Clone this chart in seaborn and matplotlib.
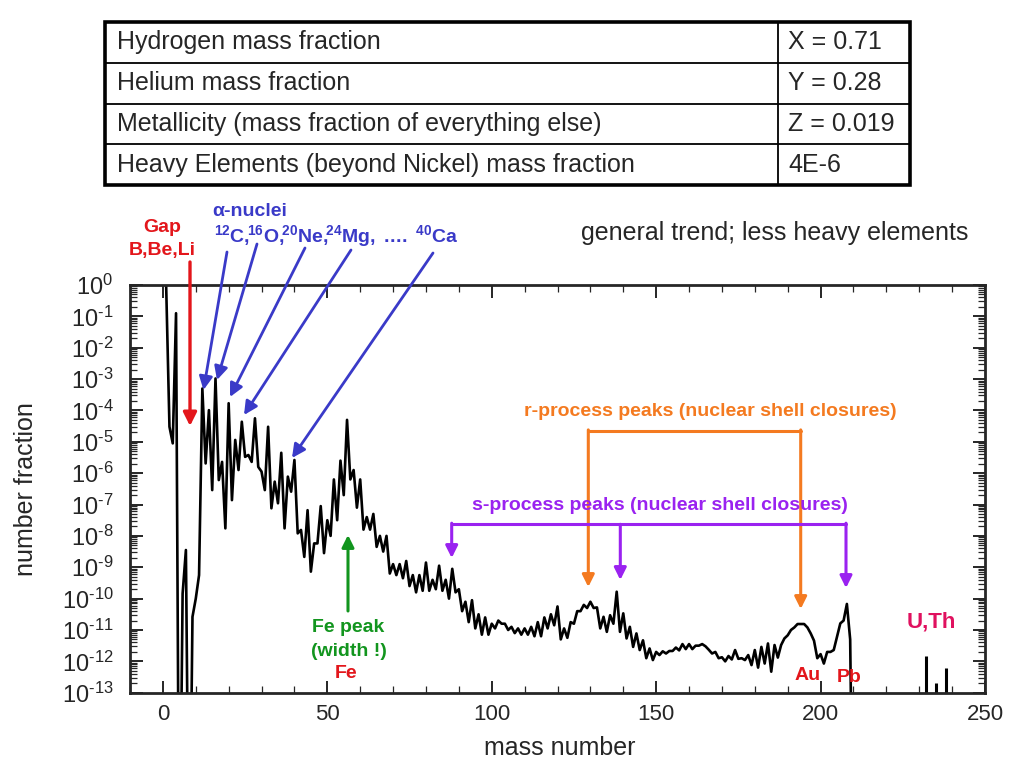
import numpy as np
import pandas as pd
import matplotlib
matplotlib.use('Agg')
import matplotlib.pyplot as plt
from matplotlib.lines import Line2D
from matplotlib.patches import Rectangle
from matplotlib.ticker import LogLocator, MultipleLocator, FuncFormatter, NullFormatter
import seaborn as sns

# ─────────────────────────────────────────────
# DATA (solar system abundances vs mass number)
# log10 of number fraction; -20 = nothing (off the bottom)
# ─────────────────────────────────────────────
mass_number = list(range(1, 211))
log_fraction = [
    -0.04, -4.52, -5.05, -0.90, -20.0, -9.84, -8.45, -20.0, -10.58, -10.0,      # 1-10
    -9.25, -3.30, -5.69, -3.99, -6.54, -2.98, -6.22, -5.64, -7.76, -3.77,       # 11-20
    -6.86, -4.94, -5.90, -4.36, -5.48, -5.42, -5.64, -4.25, -5.80, -5.95,       # 21-30
    -6.54, -4.52, -7.12, -6.27, -6.96, -5.35, -7.76, -6.11, -6.59, -5.58,       # 31-40
    -7.92, -7.81, -8.67, -7.18, -9.14, -8.24, -8.24, -7.05, -8.55, -7.50,       # 41-50
    -8.00, -6.20, -7.50, -5.60, -6.70, -4.30, -6.20, -5.90, -7.10, -6.20,       # 51-60
    -7.80, -7.40, -7.80, -7.30, -8.35, -8.00, -8.50, -8.00, -9.20, -8.90,       # 61-70
    -9.25, -8.90, -9.35, -8.80, -9.60, -9.25, -9.80, -9.25, -9.75, -8.85,       # 71-80
    -9.75, -9.40, -9.70, -8.95, -9.75, -9.40, -10.0, -9.05, -9.80, -9.70,       # 81-90
    -10.4, -10.1, -10.75, -10.05, -10.95, -10.5, -11.15, -10.6, -11.15, -10.8,  # 91-100
    -10.95, -10.7, -10.8, -10.8, -11.0, -10.9, -11.1, -10.95, -11.15, -10.95,   # 101-110
    -11.15, -10.9, -11.2, -10.75, -11.2, -10.6, -10.95, -10.5, -10.85, -10.25,  # 111-120
    -11.3, -10.95, -11.25, -10.75, -10.8, -10.4, -10.4, -10.2, -10.3, -10.1,    # 121-130
    -10.3, -10.28, -10.95, -10.58, -11.06, -10.53, -10.8, -9.78, -11.06, -10.47,  # 131-140
    -11.27, -10.9, -11.54, -11.11, -11.64, -11.33, -11.9, -11.59, -11.96, -11.7,  # 141-150
    -11.8, -11.68, -11.75, -11.67, -11.67, -11.56, -11.65, -11.45, -11.61, -11.45,  # 151-160
    -11.61, -11.5, -11.5, -11.45, -11.52, -11.63, -11.75, -11.7, -11.9, -11.87,   # 161-170
    -12.0, -11.83, -11.94, -11.64, -11.92, -11.9, -11.96, -11.8, -12.12, -11.64,  # 171-180
    -12.2, -11.54, -12.07, -11.43, -12.33, -11.48, -11.88, -11.48, -11.27, -11.17,  # 181-190
    -11.0, -10.92, -10.81, -10.81, -10.81, -10.92, -11.11, -11.34, -11.9, -11.77,  # 191-200
    -12.07, -11.7, -11.7, -11.64, -11.22, -10.79, -10.7, -10.17, -11.3, -20.0,    # 201-210
]

# U, Th lines (drawn as spikes)
uth_mass = [232, 235, 238]
uth_log = [-11.83, -12.68, -12.2]

table_labels = [
    'Hydrogen mass fraction',
    'Helium mass fraction',
    'Metallicity (mass fraction of everything else)',
    'Heavy Elements (beyond Nickel) mass fraction',
]
table_values = ['X = 0.71', 'Y = 0.28', 'Z = 0.019', '4E-6']

RED = '#e3161b'
BLUE = '#3a3ac8'
ORANGE = '#f47a20'
PURPLE = '#9a22f0'
GREEN = '#12951e'
PINK = '#e0115f'

sns.set_style('ticks')
plt.rcParams.update({
    'font.family': ['Liberation Sans', 'DejaVu Sans'],
    'mathtext.fontset': 'custom',
    'mathtext.rm': 'Liberation Sans',
    'mathtext.it': 'Liberation Sans:italic',
    'mathtext.bf': 'Liberation Sans:bold',
    'mathtext.default': 'regular',
    'axes.unicode_minus': False,
})


def fp(x, y):
    # reference-image pixels -> figure fraction
    return (x / 1024, 1 - y / 768)


fig = plt.figure(figsize=(10.24, 7.68), dpi=100)

# ─────────────────────────────────────────────
# TABLE
# ─────────────────────────────────────────────
ax_t = fig.add_axes([105 / 1024, 1 - 185 / 768, 805 / 1024, 163 / 768])
ax_t.set_xlim(0, 805)
ax_t.set_ylim(163, 0)
ax_t.axis('off')
ax_t.add_patch(Rectangle((0, 0), 805, 163, fill=False, lw=2.6, ec='black', clip_on=False))
row_h = 163 / 4
for i in range(1, 4):
    ax_t.plot([0, 805], [i * row_h, i * row_h], color='black', lw=1.3)
ax_t.plot([673, 673], [0, 163], color='black', lw=1.3)
for i, (lab, val) in enumerate(zip(table_labels, table_values)):
    ax_t.text(12, (i + 0.5) * row_h, lab, fontsize=18, va='center', ha='left')
    ax_t.text(683, (i + 0.5) * row_h, val, fontsize=18, va='center', ha='left')

# ─────────────────────────────────────────────
# ABUNDANCE CURVE
# ─────────────────────────────────────────────
ax = fig.add_axes([130 / 1024, 1 - 692.7 / 768, 855 / 1024, 407.7 / 768])
df = pd.DataFrame({'mass number': mass_number, 'fraction': 10 ** np.array(log_fraction)})
sns.lineplot(data=df, x='mass number', y='fraction', color='black', lw=1.9, ax=ax)
ax.vlines(uth_mass, 1e-20, 10 ** np.array(uth_log), color='black', lw=2.2)

ax.set_yscale('log')
ax.set_xlim(-10, 250)
ax.set_ylim(1e-13, 1)

ax.xaxis.set_major_locator(MultipleLocator(50))
ax.xaxis.set_minor_locator(MultipleLocator(10))
ax.yaxis.set_major_locator(LogLocator(base=10, numticks=20))
ax.yaxis.set_minor_locator(LogLocator(base=10, subs=np.arange(2, 10), numticks=20))
ax.yaxis.set_minor_formatter(NullFormatter())
ax.yaxis.set_major_formatter(FuncFormatter(lambda v, p: r'$10^{\text{%d}}$' % round(np.log10(v))))

ax.tick_params(which='both', direction='in', top=True, right=True)
ax.tick_params(axis='x', labelsize=16, pad=8)
ax.tick_params(axis='y', labelsize=17, pad=12)
ax.tick_params(which='major', length=9, width=1.4)
ax.tick_params(which='minor', length=5, width=0.9)
for s in ax.spines.values():
    s.set_linewidth(2)

ax.set_xlabel('mass number', fontsize=18)
ax.set_ylabel('number fraction', fontsize=18)
ax.xaxis.set_label_coords(0.503, -0.105)
ax.yaxis.set_label_coords(-0.108, 0.5)

# ─────────────────────────────────────────────
# ANNOTATIONS
# ─────────────────────────────────────────────
def arrow(x0, y0, x1, y1, color, lw=2.2, ms=18):
    ax.annotate('', xy=fp(x1, y1), xytext=fp(x0, y0),
                xycoords='figure fraction', textcoords='figure fraction',
                arrowprops=dict(arrowstyle='-|>', color=color, lw=lw,
                                shrinkA=0, shrinkB=0, mutation_scale=ms))


def seg(x0, y0, x1, y1, color, lw=2.2):
    a, b = fp(x0, y0), fp(x1, y1)
    fig.add_artist(Line2D([a[0], b[0]], [a[1], b[1]], color=color, lw=lw,
                          transform=fig.transFigure))


def label(x, y, s, color, size=14, weight='bold'):
    fig.text(*fp(x, y), s, color=color, fontsize=size, fontweight=weight,
             ha='center', va='center')


# gap B, Be, Li
label(162, 227, 'Gap', RED)
label(162, 251, 'B,Be,Li', RED)
arrow(190, 262, 190, 426, RED, lw=2.4, ms=20)

# alpha nuclei
label(250, 212, 'α-nuclei', BLUE)
label(336, 236, r'$\mathbf{^{12}C,\!\!^{16}O,\!\!^{20}Ne,\!\!^{24}Mg,\ .\!.\!.\!.\ ^{40}Ca}$', BLUE)
for (x0, y0), (x1, y1) in [((227, 252), (203.5, 390)), ((257, 244), (217, 380)),
                           ((305, 248), (230, 397)), ((351, 250), (244, 415)),
                           ((433, 253), (292, 458))]:
    arrow(x0, y0, x1, y1, BLUE, lw=2.0, ms=20)

fig.text(*fp(775, 233), 'general trend; less heavy elements', fontsize=18,
         ha='center', va='center')

# s-process bracket
label(660, 506, 's-process peaks (nuclear shell closures)', PURPLE)
seg(451.7, 524.3, 846, 524.3, PURPLE)
arrow(451.7, 523.2, 451.7, 558, PURPLE)
arrow(620.3, 524.3, 620.3, 580, PURPLE)
arrow(846, 523.2, 846, 588, PURPLE)

# r-process bracket
label(710, 411, 'r-process peaks (nuclear shell closures)', ORANGE)
seg(588.3, 431, 800.7, 431, ORANGE)
arrow(588.3, 429.9, 588.3, 587, ORANGE)
arrow(800.7, 429.9, 800.7, 609, ORANGE)

# Fe peak
arrow(348, 611, 348, 535, GREEN)
label(348, 627, 'Fe peak', GREEN)
label(349, 651, '(width !)', GREEN)
label(346, 673, 'Fe', RED)

label(808, 676, 'Au', RED)
label(849, 678, 'Pb', RED)
label(931, 622, 'U,Th', PINK, size=16)

plt.savefig('out.png', dpi=100)
plt.close()
